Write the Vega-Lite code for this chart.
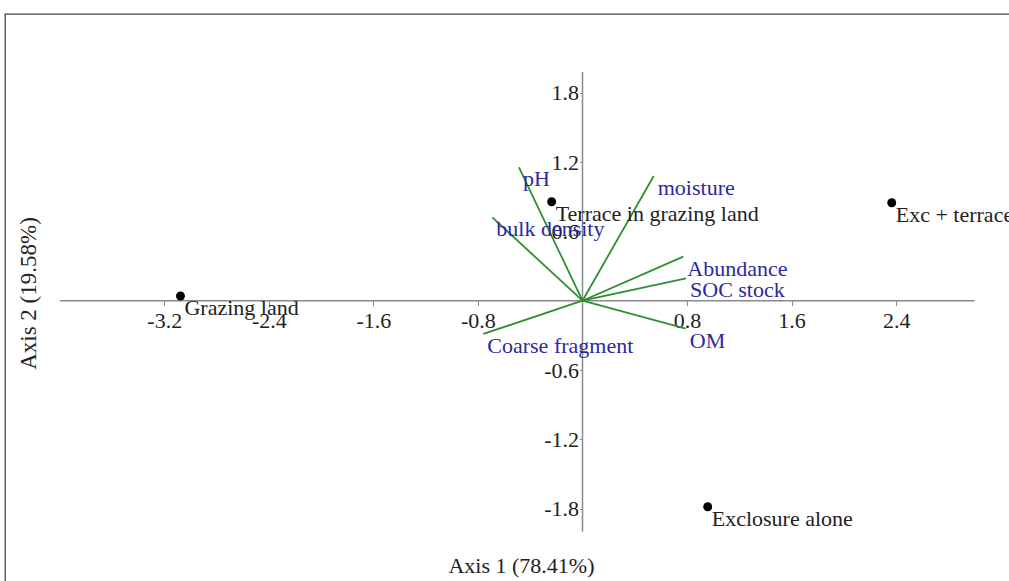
{
  "$schema": "https://vega.github.io/schema/vega-lite/v6.json",
  "width": 1007,
  "height": 570,
  "autosize": {"type": "none"},
  "padding": {"left": 5, "top": 14, "right": -3, "bottom": -3},
  "background": "white",
  "config": {
    "view": {"stroke": "#444444", "strokeWidth": 1.3},
    "font": "Liberation Serif"
  },
  "datasets": {
    "axisx": [{"x": -4.0, "x2": 3.0, "y": 0}],
    "axisy": [{"x": 0, "y": -2.0, "y2": 1.98}],
    "vectors": [
      {"variable": "pH", "o1": 0, "o2": 0, "ax1": -0.486, "ax2": 1.155},
      {"variable": "bulk density", "o1": 0, "o2": 0, "ax1": -0.69, "ax2": 0.722},
      {"variable": "moisture", "o1": 0, "o2": 0, "ax1": 0.545, "ax2": 1.08},
      {"variable": "Abundance", "o1": 0, "o2": 0, "ax1": 0.771, "ax2": 0.381},
      {"variable": "SOC stock", "o1": 0, "o2": 0, "ax1": 0.792, "ax2": 0.194},
      {"variable": "OM", "o1": 0, "o2": 0, "ax1": 0.79, "ax2": -0.242},
      {"variable": "Coarse fragment", "o1": 0, "o2": 0, "ax1": -0.759, "ax2": -0.288}
    ],
    "samples": [
      {"site": "Grazing land", "ax1": -3.076, "ax2": 0.041},
      {"site": "Terrace in grazing land", "ax1": -0.236, "ax2": 0.857},
      {"site": "Exc + terrace", "ax1": 2.366, "ax2": 0.848},
      {"site": "Exclosure alone", "ax1": 0.958, "ax2": -1.784}
    ]
  },
  "layer": [
    {
      "data": {"name": "axisx"},
      "mark": {"type": "rule", "color": "#8a8a8a", "strokeWidth": 1.5},
      "encoding": {
        "x": {
          "field": "x", "type": "quantitative",
          "scale": {"domain": [-4.4185, 3.2862], "nice": false, "zero": false},
          "axis": {
            "orient": "bottom", "domain": false, "ticks": false, "labels": false, "grid": false,
            "title": "Axis 1 (78.41%)", "titleFont": "Liberation Serif", "titleFontSize": 22,
            "titleFontWeight": "normal", "titleColor": "#222222",
            "titleBaseline": "alphabetic", "titleX": 516, "titleY": -12, "titleAlign": "center"
          }
        },
        "x2": {"field": "x2"},
        "y": {
          "field": "y", "type": "quantitative",
          "scale": {"domain": [-2.4528, 2.4823], "nice": false, "zero": false},
          "axis": {
            "orient": "left", "domain": false, "ticks": false, "labels": false, "grid": false,
            "title": "Axis 2 (19.58%)", "titleFont": "Liberation Serif", "titleFontSize": 23,
            "titleFontWeight": "normal", "titleColor": "#222222",
            "titleBaseline": "alphabetic", "titleAngle": 270, "titleX": 30, "titleY": 279, "titleAlign": "center"
          }
        }
      }
    },
    {
      "data": {"name": "axisy"},
      "mark": {"type": "rule", "color": "#8a8a8a", "strokeWidth": 1.5},
      "encoding": {
        "x": {"field": "x", "type": "quantitative", "axis": null},
        "y": {"field": "y", "type": "quantitative", "axis": null},
        "y2": {"field": "y2"}
      }
    },
    {
      "data": {"name": "vectors"},
      "mark": {"type": "rule", "color": "#2f8f2f", "strokeWidth": 1.8},
      "encoding": {
        "x": {"field": "o1", "type": "quantitative", "axis": null},
        "y": {"field": "o2", "type": "quantitative", "axis": null},
        "x2": {"field": "ax1"},
        "y2": {"field": "ax2"}
      }
    },
    {
      "data": {"name": "vectors"},
      "mark": {"type": "text", "align": "left", "baseline": "alphabetic", "dx": 4, "dy": 19, "font": "Liberation Serif", "fontSize": 22, "color": "#2a2aa0"},
      "encoding": {
        "x": {"field": "ax1", "type": "quantitative", "axis": null},
        "y": {"field": "ax2", "type": "quantitative", "axis": null},
        "text": {"field": "variable"}
      }
    },
    {
      "data": {"name": "samples"},
      "mark": {"type": "point", "filled": true, "size": 80, "color": "#000000", "opacity": 1},
      "encoding": {
        "x": {
          "field": "ax1", "type": "quantitative",
          "axis": {
            "orient": "bottom", "offset": -283.3, "domain": false, "grid": false, "title": null,
            "values": [-3.2, -2.4, -1.6, -0.8, 0.8, 1.6, 2.4],
            "labelExpr": "'' + datum.value",
            "ticks": true, "tickColor": "#8a8a8a", "tickSize": 5, "tickWidth": 1,
            "labelFont": "Liberation Serif", "labelFontSize": 22, "labelColor": "#222222",
            "labelPadding": 5, "labelFlush": false, "labelOverlap": false, "labelBound": false
          }
        },
        "y": {
          "field": "ax2", "type": "quantitative",
          "axis": {
            "orient": "left", "offset": -577.5, "domain": false, "grid": false, "title": null,
            "values": [-1.8, -1.2, -0.6, 0.6, 1.2, 1.8],
            "labelExpr": "'' + datum.value",
            "ticks": true, "tickColor": "#8a8a8a", "tickSize": 3, "tickWidth": 1,
            "labelFont": "Liberation Serif", "labelFontSize": 22, "labelColor": "#222222",
            "labelPadding": 1, "labelFlush": false, "labelOverlap": false, "labelBound": false
          }
        }
      }
    },
    {
      "data": {"name": "samples"},
      "mark": {"type": "text", "align": "left", "baseline": "alphabetic", "dx": 4, "dy": 19, "font": "Liberation Serif", "fontSize": 22, "color": "#222222"},
      "encoding": {
        "x": {"field": "ax1", "type": "quantitative", "axis": null},
        "y": {"field": "ax2", "type": "quantitative", "axis": null},
        "text": {"field": "site"}
      }
    }
  ],
  "resolve": {"axis": {"x": "independent", "y": "independent"}}
}
